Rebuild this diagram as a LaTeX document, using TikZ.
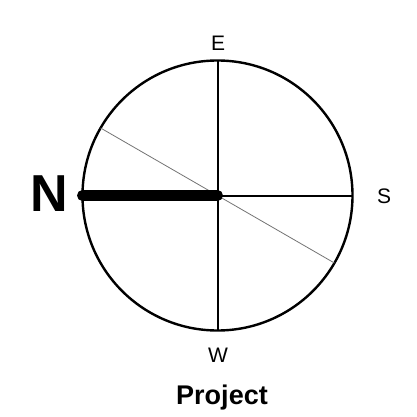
\documentclass[tikz,border=0pt]{standalone}
\usepackage{fontspec}
\setmainfont{Liberation Sans}
\usetikzlibrary{calc}
\begin{document}
\begin{tikzpicture}[x=1pt,y=-1pt,
  lab/.style={font=\fontsize{21}{21}\selectfont, inner sep=0pt},
  rim/.style={draw, line width=2.4pt},
  axis/.style={line width=2pt},
  faint/.style={draw=black!55, line width=0.8pt},
  needle/.style={line width=11pt, line cap=round}]
\useasboundingbox (0,0) rectangle (416,417);
\coordinate (c) at (217.5,195.5);
\node[rim, circle, minimum size=270pt, inner sep=0pt] (ring) at (c) {};
\coordinate (top) at (217.5,60.5);
\coordinate (bot) at (217.5,330.5);
\coordinate (lft) at (82.5,195.5);
\coordinate (rgt) at (352.5,195.5);
\coordinate (p1) at ($(c)+(-116.9,-67.5)$);
\coordinate (p2) at ($(c)+(116.9,67.5)$);
\draw[axis] (top) -- (bot);
\draw[axis] (c) -- (rgt);
\draw[faint] (p1) -- (p2);
\draw[needle] (lft) -- (c);
\node[lab] (E) at (218,43) {E};
\node[lab] (W) at (218,355) {W};
\node[lab] (S) at (384,196) {S};
\node[inner sep=0pt, font=\fontsize{52}{52}\selectfont\bfseries] (N) at (49,194) {N};
\node[inner sep=0pt, font=\fontsize{27}{27}\selectfont\bfseries] (P) at (222,398) {Project};
\end{tikzpicture}
\end{document}
